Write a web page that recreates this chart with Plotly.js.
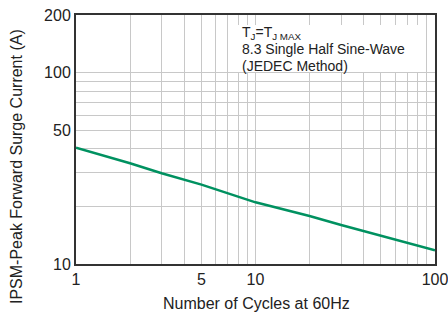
<!DOCTYPE html>
<html>
<head>
<meta charset="utf-8">
<script src="https://cdn.plot.ly/plotly-3.0.1.min.js"></script>
<style>html,body{margin:0;padding:0;background:#fff;}#chart{width:448px;height:314px;}</style>
</head>
<body>
<div id="chart"></div>
<script>
// Data
const cycles = [1, 2, 3, 4, 5, 10, 20, 30, 40, 50, 100];
const surgeCurrent = [40.5, 33.6, 29.8, 27.5, 26, 21, 17.8, 16, 14.9, 14, 11.8];

const xTickVals = [1, 5, 10, 100];
const xTickText = ['1', '5', '10', '100'];
const xMinorVals = [2, 3, 4, 6, 7, 8, 9, 20, 30, 40, 50, 60, 70, 80, 90];
const yTickVals = [10, 50, 100, 200];
const yTickText = ['10', '50', '100', '200'];
const yMinorVals = [20, 30, 40, 60, 70, 80, 90];

const xTitle = 'Number of Cycles at 60Hz';
const yTitle = 'IPSM-Peak Forward Surge Current (A)';
const noteLines = ['T<sub>J</sub>=T<sub>J MAX</sub>', '8.3 Single Half Sine-Wave', '(JEDEC Method)'];

const font = 'Liberation Sans, Arial, sans-serif';
const gridColor = '#c8c8c8';

const trace = {
  x: cycles, y: surgeCurrent, type: 'scatter', mode: 'lines',
  line: {color: '#009160', width: 2.5}, hoverinfo: 'skip'
};

const noteY = [0.928, 0.862, 0.797];
const annotations = noteLines.map((t, i) => ({
  text: t, xref: 'paper', yref: 'paper', x: 0.457, y: noteY[i],
  xanchor: 'left', yanchor: 'middle', showarrow: false,
  font: {family: font, size: 14, color: '#222'}
}));
annotations.push({
  text: xTitle, xref: 'paper', yref: 'paper', x: 0.504, y: -0.157,
  xanchor: 'center', yanchor: 'middle', showarrow: false,
  font: {family: font, size: 16, color: '#222'}
});
annotations.push({
  text: yTitle, xref: 'paper', yref: 'paper', x: -0.164, y: 0.39,
  xanchor: 'center', yanchor: 'middle', showarrow: false, textangle: -90,
  font: {family: font, size: 16, color: '#222'}
});

const layout = {
  width: 448, height: 314,
  margin: {l: 76, r: 13, t: 15, b: 50},
  paper_bgcolor: '#fff', plot_bgcolor: '#fff',
  showlegend: false,
  font: {family: font, size: 16, color: '#222'},
  xaxis: {
    type: 'log', range: [0, 2],
    tickmode: 'array', tickvals: xTickVals, ticktext: xTickText,
    ticklabeloverflow: 'allow',
    showgrid: true, gridcolor: gridColor, gridwidth: 1,
    minor: {tickmode: 'array', tickvals: xMinorVals, showgrid: true, gridcolor: gridColor, gridwidth: 1, ticks: ''},
    showline: true, linecolor: '#333', linewidth: 2, mirror: true,
    ticks: '', zeroline: false,
    tickfont: {family: font, size: 16, color: '#222'}
  },
  yaxis: {
    type: 'log', range: [1, Math.log10(200)],
    tickmode: 'array', tickvals: yTickVals, ticktext: yTickText,
    ticklabeloverflow: 'allow',
    showgrid: true, gridcolor: gridColor, gridwidth: 1,
    minor: {tickmode: 'array', tickvals: yMinorVals, showgrid: true, gridcolor: gridColor, gridwidth: 1, ticks: ''},
    showline: true, linecolor: '#333', linewidth: 2, mirror: true,
    ticks: '', zeroline: false,
    tickfont: {family: font, size: 16, color: '#222'}
  },
  shapes: [{
    type: 'rect', xref: 'paper', yref: 'paper',
    x0: 0.443, x1: 0.967, y0: 0.771, y1: 0.960,
    fillcolor: '#fff', line: {width: 0}, layer: 'above'
  }],
  annotations: annotations
};

Plotly.newPlot('chart', [trace], layout, {displayModeBar: false, staticPlot: true});
</script>
</body>
</html>
